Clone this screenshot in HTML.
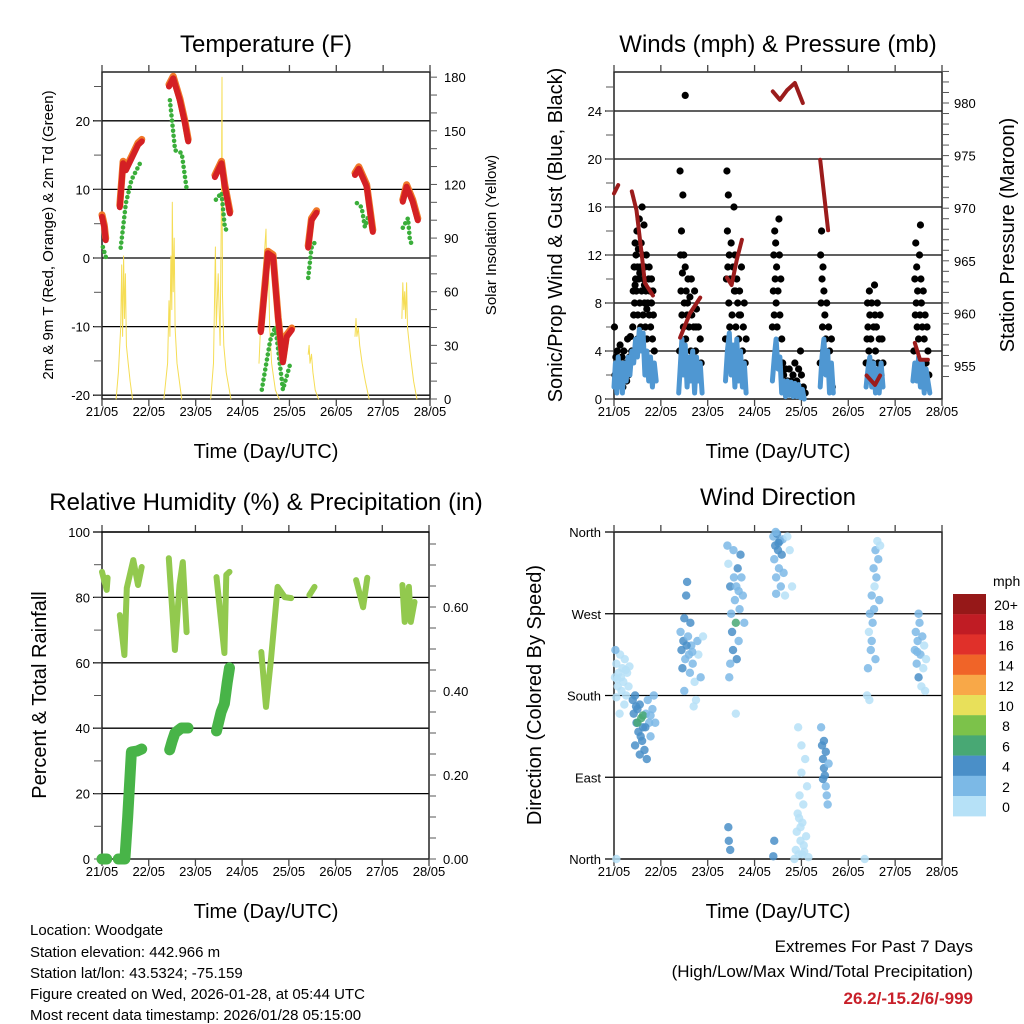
<!DOCTYPE html>
<html><head><meta charset="utf-8"><style>
body{margin:0;background:#fff;}
svg{display:block;font-family:"Liberation Sans",sans-serif;}
</style></head><body>
<svg id="c" width="1024" height="1024" viewBox="0 0 1024 1024" xmlns="http://www.w3.org/2000/svg">
<rect width="1024" height="1024" fill="#fff"/>
<g id="g"></g>
<text x="266" y="52" font-size="24" text-anchor="middle">Temperature (F)</text>
<text x="778" y="52" font-size="24" text-anchor="middle">Winds (mph) &amp; Pressure (mb)</text>
<text x="266" y="510" font-size="24" text-anchor="middle">Relative Humidity (%) &amp; Precipitation (in)</text>
<text x="778" y="505" font-size="24" text-anchor="middle">Wind Direction</text>
<text x="266" y="458" font-size="20" text-anchor="middle">Time (Day/UTC)</text>
<text x="778" y="458" font-size="20" text-anchor="middle">Time (Day/UTC)</text>
<text x="266" y="918" font-size="20" text-anchor="middle">Time (Day/UTC)</text>
<text x="778" y="918" font-size="20" text-anchor="middle">Time (Day/UTC)</text>
<text transform="translate(53,235) rotate(-90)" font-size="15" text-anchor="middle">2m &amp; 9m T (Red, Orange) &amp; 2m Td (Green)</text>
<text transform="translate(496,235) rotate(-90)" font-size="15" text-anchor="middle">Solar Insolation (Yellow)</text>
<text transform="translate(562,235) rotate(-90)" font-size="20" text-anchor="middle">Sonic/Prop Wind &amp; Gust (Blue, Black)</text>
<text transform="translate(1014,235) rotate(-90)" font-size="20" text-anchor="middle">Station Pressure (Maroon)</text>
<text transform="translate(46,695) rotate(-90)" font-size="20" text-anchor="middle">Percent &amp; Total Rainfall</text>
<text transform="translate(541,695) rotate(-90)" font-size="20" text-anchor="middle">Direction (Colored By Speed)</text>
<g font-size="15">
<text x="30" y="935">Location: Woodgate</text>
<text x="30" y="957">Station elevation: 442.966 m</text>
<text x="30" y="978">Station lat/lon: 43.5324; -75.159</text>
<text x="30" y="999">Figure created on Wed, 2026-01-28, at 05:44 UTC</text>
<text x="30" y="1020">Most recent data timestamp: 2026/01/28 05:15:00</text>
</g>
<g font-size="17" text-anchor="end">
<text x="973" y="952">Extremes For Past 7 Days</text>
<text x="973" y="977">(High/Low/Max Wind/Total Precipitation)</text>
<text x="973" y="1004" fill="#c8202a" font-weight="bold">26.2/-15.2/6/-999</text>
</g>
</svg>
<script>
// ---- data ----
const dayLabels=["21/05","22/05","23/05","24/05","25/05","26/05","27/05","28/05"];
const tempTicks=[-20,-10,0,10,20];
const insolTicks=[0,30,60,90,120,150,180];
const windTicks=[0,4,8,12,16,20,24];
const presTicks=[955,960,965,970,975,980];
const rhTicks=[0,20,40,60,80,100];
const rainTicks=["0.00","0.20","0.40","0.60"];
const dirLabels=["North","East","South","West","North"];
const speedLabels=["0","2","4","6","8","10","12","14","16","18","20+"];
const speedColors=["#b6e1f7","#7cb9e6","#4a8fc8","#48a874","#7cc24a","#e8e05a","#f8a848","#f06428","#e0302a","#c01c24","#961818"];
const tempT=[[0,6],[0.05,4.5],[0.08,2.6],null,[0.38,7.4],[0.45,13.8],[0.51,12.8],[0.77,16.5],[0.85,17],null,[1.43,25],[1.52,26.2],[1.66,23],[1.77,19.7],[1.84,17],null,[2.41,11.8],[2.55,13.8],[2.62,10.4],[2.73,6.5],null,[3.39,-10.8],[3.54,0.7],[3.65,0.2],[3.76,-9],[3.86,-15.2],[3.94,-11.5],[4.05,-10.5],null,[4.40,1.5],[4.47,5.5],[4.58,6.6],null,[5.40,12.1],[5.48,13],[5.65,10.4],[5.78,3.8],null,[6.42,8.2],[6.50,10.4],[6.63,8.2],[6.74,5.5]];
const tempTd=[[0.02,1.6],[0.10,-0.3],null,[0.40,1.5],[0.51,8],[0.63,11.4],[0.85,14.3],null,[1.45,23],[1.56,15.7],[1.70,15.3],[1.81,9.9],null,[2.43,8.5],[2.55,9.5],[2.62,4.5],[2.69,3.6],null,[3.41,-19.2],[3.59,-12],[3.70,-10],[3.86,-19.2],[4.01,-15.6],null,[4.40,-2.9],[4.47,1.5],[4.57,2.6],null,[5.44,8],[5.54,7.4],[5.61,4.5],[5.68,6],null,[6.42,4.4],[6.53,5.8],[6.57,2.6],[6.64,1.6]];
const insol=[[0.30,0],[0.35,15],[0.40,40],[0.42,75],[0.44,35],[0.46,80],[0.48,45],[0.50,70],[0.52,30],[0.56,20],[0.60,10],[0.65,0],null,[1.32,0],[1.40,20],[1.43,55],[1.45,35],[1.47,80],[1.49,50],[1.50,110],[1.52,60],[1.54,90],[1.56,40],[1.60,20],[1.70,0],null,[2.32,0],[2.38,20],[2.42,85],[2.44,40],[2.48,70],[2.52,30],[2.55,115],[2.56,180],[2.57,60],[2.60,30],[2.65,15],[2.75,0],null,[3.35,20],[3.40,50],[3.45,75],[3.50,95],[3.52,60],[3.55,80],[3.58,40],[3.62,20],[3.70,5],[3.78,0],null,[4.40,25],[4.42,30],[4.44,20],[4.47,25],[4.50,15],[4.55,5],[4.62,0],null,[5.40,35],[5.42,45],[5.44,35],[5.47,40],[5.50,30],[5.55,20],[5.62,10],[5.70,0],null,[6.40,45],[6.42,65],[6.44,50],[6.46,60],[6.48,45],[6.50,65],[6.52,40],[6.58,25],[6.65,10],[6.72,0]];
const pressure=[[0,971.4],[0.09,972.2],null,[0.38,971.6],[0.48,969.8],[0.59,965.7],[0.66,962.9],[0.83,961.7],null,[1.41,957.7],[1.62,960],[1.84,961.5],null,[2.41,963.4],[2.51,962.7],[2.62,965.1],[2.73,967],null,[3.39,981.1],[3.54,980.3],[3.69,981.2],[3.86,981.9],[4.03,980],null,[4.40,974.6],[4.57,967.9],null,[5.39,954.1],[5.57,953.2],[5.68,954.1],null,[6.42,957.2],[6.53,955.6],[6.70,955.6]];
const wind=[[0,1],[0.03,3],[0.06,0.5],[0.09,3.5],[0.12,1],[0.15,3],[0.18,0.5],[0.22,3],[0.26,1.5],[0.3,3.5],[0.34,2],[0.38,4],[0.42,3],[0.46,5],[0.5,3.5],[0.54,5.8],[0.58,4],[0.62,5.5],[0.66,2],[0.70,4],[0.74,1.5],[0.78,3.5],[0.82,1],[0.86,3],[0.9,1.5],null,[1.38,0.5],[1.42,3],[1.45,5],[1.48,2],[1.52,4.5],[1.56,1],[1.6,3.5],[1.64,1.5],[1.68,4],[1.72,0.5],[1.76,3.5],[1.80,1.5],[1.84,3],[1.88,0.5],null,[2.38,1.5],[2.42,4],[2.46,5.5],[2.5,2],[2.54,4.5],[2.58,1],[2.62,5],[2.66,1.5],[2.70,4],[2.74,1],[2.78,3],[2.82,0.5],null,[3.38,1.5],[3.42,3.5],[3.46,5],[3.5,2.5],[3.54,3.5],[3.58,0.5],[3.62,1.5],[3.66,0.2],[3.70,1.5],[3.74,0.3],[3.78,1.4],[3.82,0.2],[3.86,1.3],[3.90,0.2],[3.94,1.2],[3.98,0.1],[4.02,0.8],[4.06,0],null,[4.4,1],[4.44,3.5],[4.48,5],[4.52,2],[4.56,4],[4.60,0.5],[4.64,3],[4.68,0.5],null,[5.38,1],[5.42,2.5],[5.46,3.5],[5.50,1],[5.54,3],[5.58,0.5],[5.62,2.5],[5.66,0.5],[5.70,3],[5.74,1],null,[6.38,1.5],[6.42,3],[6.46,1.5],[6.50,3.5],[6.54,1],[6.58,3],[6.62,0.5],[6.66,2.5],[6.70,1.5],[6.74,0.5]];
const gust=[[0.01,6],[0.02,2],[0.04,3.5],[0.05,1.5],[0.07,4],[0.08,2.5],[0.10,3],[0.12,1.5],[0.13,4.5],[0.15,2],[0.17,3.5],[0.19,1],[0.21,4],[0.23,2.5],[0.25,3],[0.27,1.5],[0.29,5],[0.31,2],[0.33,3.5],[0.35,5.2],[0.06,2.8],[0.16,2.6],[0.26,2.2],
[0.38,4],[0.40,6],[0.41,9],[0.42,7],[0.43,11],[0.44,8],[0.45,13],[0.46,10],[0.47,12],[0.48,9],[0.49,14],[0.50,11],[0.51,7],[0.52,12.5],[0.53,10],[0.54,15],[0.55,8],[0.56,11],[0.57,6],[0.58,13],[0.59,9],[0.60,16],[0.61,12],[0.62,7],[0.63,10],[0.64,14.5],[0.65,8],[0.66,11],[0.67,6],[0.68,9],[0.69,12],[0.70,5],[0.72,8],[0.74,10],[0.75,7],[0.76,9],[0.78,6],[0.80,8],[0.82,5],[0.84,7],[0.86,4],[0.5,5],[0.6,4.5],[0.7,7.5],[0.45,9.5],[0.55,10.5],[0.65,9.5],[0.75,11],[0.8,10],[0.83,9],
[1.40,4],[1.41,19],[1.42,12],[1.43,9],[1.44,14],[1.45,7],[1.46,10.5],[1.47,17],[1.48,6],[1.49,12],[1.50,8],[1.52,11],[1.53,5],[1.54,9],[1.56,7],[1.58,10],[1.60,6],[1.62,8.5],[1.64,4],[1.66,7],[1.68,3],[1.70,6],[1.72,9],[1.74,4],[1.76,7.5],[1.78,3],[1.80,6],[1.82,2],[1.84,5],[1.86,3],[1.52,25.3],[1.57,8],[1.65,10],[1.75,6],
[2.38,5],[2.40,10],[2.41,19],[2.42,14],[2.43,11],[2.44,17],[2.45,8],[2.46,12],[2.47,6],[2.48,10],[2.50,13],[2.52,7],[2.54,11],[2.56,16],[2.57,9],[2.58,12],[2.60,6],[2.62,10],[2.64,8],[2.66,5],[2.68,9],[2.70,7],[2.72,11],[2.74,4],[2.76,6],[2.78,8],[2.80,3],[2.82,5],[2.59,9],[2.67,7],
[3.38,6],[3.40,9],[3.41,12],[3.42,7],[3.43,14],[3.44,10],[3.45,13],[3.46,8],[3.47,11],[3.48,6],[3.50,9],[3.52,15],[3.53,12],[3.54,7],[3.56,10],[3.58,5],[3.60,3],[3.62,2],[3.66,2.5],[3.70,1.5],[3.74,2.5],[3.78,1.5],[3.82,2],[3.86,3],[3.90,1.5],[3.94,2.5],[3.98,4],[4.00,2],[4.04,1],[4.08,0.5],
[4.40,3],[4.41,12],[4.42,8],[4.43,14],[4.44,10],[4.45,6],[4.46,11],[4.47,4],[4.48,9],[4.50,7],[4.52,5],[4.54,8],[4.56,3],[4.58,6],[4.60,4],[4.62,2],[4.64,5],[4.66,1],
[5.38,3],[5.40,5],[5.41,8],[5.42,6],[5.44,4],[5.45,9],[5.46,7],[5.48,5],[5.50,8],[5.52,3],[5.54,6],[5.56,9.5],[5.57,7],[5.58,4],[5.60,6],[5.62,8],[5.64,3],[5.66,5],[5.68,7],[5.70,2],[5.72,5],[5.74,3],
[6.40,4],[6.42,10],[6.43,7],[6.44,13],[6.45,8],[6.46,11],[6.47,6],[6.48,9],[6.50,5],[6.52,12],[6.53,7],[6.54,14.5],[6.55,10],[6.56,8],[6.58,6],[6.60,9],[6.62,5],[6.64,7],[6.66,3],[6.68,6],[6.70,4],[6.72,2]];
const dirPts=[[0.02,200,0],[0.05,215,0],[0.08,190,0],[0.10,205,0],[0.13,225,0],[0.16,185,0],[0.18,210,0],[0.20,195,0],[0.23,220,0],[0.26,180,0],[0.28,205,0],[0.31,190,0],[0.33,212,0],[0.05,178,0],[0.12,160,0],[0.22,170,0],[0.03,230,1],[0.07,198,0],[0.15,200,0],[0.25,208,0],
[0.40,175,2],[0.42,160,2],[0.45,180,2],[0.48,150,2],[0.50,165,2],[0.52,140,2],[0.55,170,2],[0.58,155,3],[0.60,130,2],[0.62,145,2],[0.65,120,2],[0.68,160,1],[0.72,175,1],[0.75,150,1],[0.78,135,1],[0.82,165,1],[0.85,180,1],[0.55,115,2],[0.70,110,2],[0.45,125,2],[0.62,158,3],[0.88,150,1],[0.50,150,3],[0.47,168,2],[0.57,135,2],[0.67,145,2],[0.78,158,1],
[1.42,250,1],[1.44,230,2],[1.46,210,2],[1.48,240,2],[1.50,265,2],[1.52,220,1],[1.54,290,2],[1.56,305,2],[1.58,245,1],[1.60,225,1],[1.62,205,1],[1.65,235,1],[1.68,215,1],[1.72,195,0],[1.75,175,0],[1.78,240,1],[1.80,225,0],[1.85,200,1],[1.50,185,1],[1.63,260,2],[1.90,245,0],[1.70,168,0],[1.55,235,2],[1.67,228,1],
[2.42,345,1],[2.44,325,0],[2.46,200,1],[2.48,300,2],[2.50,270,1],[2.52,250,2],[2.54,230,2],[2.56,310,1],[2.58,285,1],[2.60,260,3],[2.62,220,2],[2.64,320,2],[2.66,295,1],[2.68,275,1],[2.70,335,2],[2.72,310,1],[2.75,290,1],[2.78,260,1],[2.55,340,1],[2.48,215,1],[2.66,240,1],[2.61,300,1],
[3.40,355,1],[3.42,330,1],[3.44,345,2],[3.46,310,1],[3.48,358,2],[3.50,340,2],[3.52,320,1],[3.54,350,2],[3.56,300,1],[3.58,335,2],[3.60,352,1],[3.62,315,1],[3.65,290,0],[3.70,355,0],[3.75,340,0],[3.80,300,0],[3.46,292,1],[3.51,348,2],
[3.88,10,0],[3.90,30,0],[3.92,50,0],[3.94,5,0],[3.96,70,0],[3.98,20,0],[4.00,95,0],[4.02,40,0],[4.04,60,0],[4.06,8,0],[4.08,110,0],[4.10,25,0],[4.12,80,0],[4.15,2,0],[3.40,3,2],[3.42,20,2],[3.85,0,0],[4.00,125,0],[3.93,145,0],[3.95,45,0],[4.05,15,0],[3.98,35,0],[4.02,5,0],
[4.42,145,1],[4.44,125,2],[4.46,110,2],[4.48,100,2],[4.50,92,2],[4.52,80,1],[4.54,70,1],[4.56,60,1],[4.48,130,2],[4.52,118,2],[4.58,105,1],[4.46,88,2],
[5.40,180,0],[5.42,210,1],[5.44,250,0],[5.46,270,1],[5.48,230,1],[5.50,290,1],[5.52,260,1],[5.54,320,1],[5.56,300,0],[5.58,340,1],[5.60,310,1],[5.62,350,0],[5.64,330,1],[5.66,285,1],[5.45,175,0],[5.50,240,1],[5.58,220,1],[5.68,345,0],[5.55,275,1],
[6.42,230,1],[6.44,250,1],[6.46,215,1],[6.48,240,1],[6.50,200,2],[6.52,260,1],[6.54,225,1],[6.56,190,0],[6.58,245,1],[6.60,210,0],[6.62,235,0],[6.64,185,0],[6.50,270,1],[6.66,220,0],[6.47,228,1],
[2.45,20,2],[2.48,10,2],[2.44,35,2],[0.05,0,0],[2.6,160,0],[3.45,360,1],[5.35,0,0]];
const rhVals=[[0,87.8],[0.10,82.3],[0.12,86],null,[0.38,74.6],[0.48,62.4],[0.53,82.9],[0.67,91.4],[0.77,83.8],[0.85,89.3],null,[1.43,92],[1.56,63.9],[1.66,83.8],[1.73,90.8],[1.81,69.4],null,[2.45,86.2],[2.62,63],[2.66,86.9],[2.73,87.8],null,[3.41,63.3],[3.51,46.5],[3.62,61.5],[3.76,83.2],[3.91,80.1],[4.05,79.8],null,[4.44,80.7],[4.55,83.2],null,[5.44,85.3],[5.59,77],[5.68,86],null,[6.43,83.8],[6.48,72.5],[6.57,83.2],[6.61,72.5],[6.69,78.6]];
const rain=[[0.0,0],[0.1,0],null,[0.35,0],[0.49,0],[0.55,0.10],[0.63,0.255],[0.75,0.257],[0.85,0.262],null,[1.45,0.26],[1.50,0.28],[1.56,0.30],[1.70,0.312],[1.84,0.312],null,[2.45,0.305],[2.55,0.35],[2.62,0.37],[2.68,0.42],[2.73,0.455]];

// ---- helpers ----
const NS="http://www.w3.org/2000/svg";
const G=document.getElementById('g');
function mk(tag,attrs,parent){const e=document.createElementNS(NS,tag);for(const k in attrs)e.setAttribute(k,attrs[k]);(parent||G).appendChild(e);return e;}
function panel(x0,x1,y0,y1){return {x0,x1,y0,y1,x:t=>x0+t*(x1-x0)/7};}
const P1=panel(102,430,72,399),P2=panel(614,942,72,399),P3=panel(102,429,532,859),P4=panel(614,942,532,859);
const yT=v=>258-v*6.86, yI=v=>399-v*1.788, yW=v=>399-v*12, yP=v=>366-(v-955)*10.52, yRH=v=>859-v*3.27, yR=v=>859-v*420, yD=v=>859-v*327/360;

function frame(P,name,gridVals,yf,leftTicks,rightTicks){
  gridVals.forEach(v=>{const l=mk('line',{x1:P.x0-9,x2:P.x1,y1:yf(v),y2:yf(v),stroke:'#000','stroke-width':1.3});
    
    });
  const r=mk('rect',{x:P.x0,y:P.y0,width:P.x1-P.x0,height:P.y1-P.y0,fill:'none',stroke:'#222','stroke-width':1.5});
  
  
  for(let d=0;d<=7;d++){const x=P.x(d);
    mk('line',{x1:x,x2:x,y1:P.y1,y2:P.y1+7,stroke:'#444','stroke-width':1.3});
    mk('line',{x1:x,x2:x,y1:P.y0,y2:P.y0-7,stroke:'#444','stroke-width':1.3});
    const tx=mk('text',{x:x,y:P.y1+17,'font-size':13,'text-anchor':'middle'});tx.textContent=dayLabels[d];
    
    }
  leftTicks.forEach(y=>mk('line',{x1:P.x0-8,x2:P.x0,y1:y,y2:y,stroke:'#555','stroke-width':1}));
  rightTicks.forEach(y=>mk('line',{x1:P.x1,x2:P.x1+7,y1:y,y2:y,stroke:'#555','stroke-width':1}));
}
function label(x,y,txt,anchor,size,name){const t=mk('text',{x,y,'font-size':size||13,'text-anchor':anchor});t.textContent=txt;
  
  }
function line(P,arr,yf,color,w,name,dy){
  let d='',pen=false;arr.forEach(p=>{if(!p){pen=false;return;}d+=(pen?'L':'M')+P.x(p[0]).toFixed(1)+' '+(yf(p[1])+(dy||0)).toFixed(1);pen=true;});
  const e=mk('path',{d,fill:'none',stroke:color,'stroke-width':w,'stroke-linecap':'round','stroke-linejoin':'round'});
  
  return e;}
function dots(P,arr,yf,color,r,name){
  arr.forEach(p=>{if(!p)return;const c=mk('circle',{cx:P.x(p[0]),cy:yf(p[1]),r,fill:color});
    
    });}

// Panel 1: temperature
const lt1=[];for(let v=-20;v<=25;v+=5)lt1.push(yT(v));
const rt1=[];for(let v=0;v<=180;v+=10)rt1.push(yI(v));
frame(P1,'temp',tempTicks,yT,lt1,rt1);
tempTicks.forEach(v=>label(P1.x0-12,yT(v)+5,String(v),'end',13,'temp-y-tick'));
insolTicks.forEach(v=>label(P1.x1+14,yI(v)+5,String(v),'start',13,'insolation-y-tick'));
line(P1,insol,yI,'#f5dd55',1,'insolation-line');
line(P1,tempTd,yT,'#3aae3a',4.5,'dewpoint-line').setAttribute('stroke-dasharray','0.1 5');
line(P1,tempT,yT,'#f07828',7,'temp-9m-line',-2);
line(P1,tempT,yT,'#d42024',6,'temp-2m-line');

// Panel 2: winds
const lt2=[];for(let v=0;v<=26;v+=2)lt2.push(yW(v));
const rt2=[];for(let v=954;v<=983;v+=1)rt2.push(yP(v));
frame(P2,'winds',windTicks,yW,lt2,rt2);
windTicks.forEach(v=>label(P2.x0-12,yW(v)+5,String(v),'end',13,'wind-y-tick'));
presTicks.forEach(v=>label(P2.x1+12,yP(v)+5,String(v),'start',13,'pressure-y-tick'));
dots(P2,gust,yW,'#000',3.6,'gust-point');
line(P2,wind,yW,'#4f97d2',5,'wind-line');
line(P2,pressure,yP,'#9b1c1c',4,'pressure-line');

// Panel 3: RH & rain
const lt3=[];for(let v=0;v<=100;v+=10)lt3.push(yRH(v));
const rt3=[];for(let v=0;v<=0.76;v+=0.05)rt3.push(yR(v));
frame(P3,'rh',rhTicks.slice(1,5),yRH,lt3,rt3);
mk('line',{x1:P3.x0-9,x2:P3.x1,y1:P3.y0,y2:P3.y0,stroke:'#000','stroke-width':1.3});
rhTicks.forEach(v=>label(P3.x0-12,yRH(v)+5,String(v),'end',13,'rh-y-tick'));
rainTicks.forEach(v=>label(P3.x1+14,yR(+v)+5,v,'start',13,'rain-y-tick'));
line(P3,rhVals,yRH,'#92c94e',6,'rh-line');
line(P3,rain,yR,'#48b448',11,'rain-line');

// Panel 4: wind direction
const dg=[0,90,180,270,360];
frame(P4,'dir',dg,yD,[],[]);
dirLabels.forEach((s,i)=>label(P4.x0-13,yD(dg[i])+5,s,'end',13,'direction-tick'));
dirPts.forEach(p=>{const c=mk('circle',{cx:P4.x(p[0]),cy:yD(p[1]),r:4.2,fill:speedColors[p[2]],'fill-opacity':0.85});
  
  });
// colorbar
label(993,586,'mph','start',14,'colorbar-unit');
for(let i=0;i<11;i++){const k=10-i;const y=594+i*20.2;
  const r=mk('rect',{x:953,y:y,width:33,height:20.4,fill:speedColors[k]});
  
  
  label(1006,y+16,speedLabels[k],'middle',14,'colorbar-label');}
</script>
</body></html>
